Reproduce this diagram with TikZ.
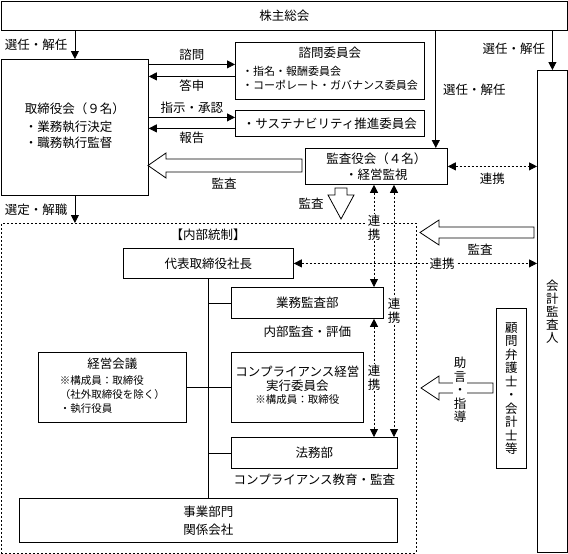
\documentclass[tikz,border=0pt]{standalone}
\usepackage{fontspec}
\setmainfont{Noto Sans CJK JP}
\usetikzlibrary{arrows.meta,calc}
\begin{document}
\begin{tikzpicture}[x=1pt,y=-1pt,
  box/.style={draw, line width=0.8pt, rectangle, anchor=north west, inner sep=1pt, font=\fontsize{12.5}{15}\selectfont},
  txt/.style={font=\fontsize{12.5}{15}\selectfont, inner sep=1pt},
  smalltxt/.style={font=\fontsize{11}{14}\selectfont},
  vlabel/.style={fill=white, inner sep=1pt, align=center, font=\fontsize{12.5}{13.5}\selectfont},
  ln/.style={line width=0.8pt},
  arr/.style={line width=0.8pt, -{Triangle[length=8pt,width=8pt]}},
  darr/.style={line width=0.8pt, dash pattern=on 2pt off 2pt, {Triangle[length=8pt,width=8pt]}-{Triangle[length=8pt,width=8pt]}},
  hollow/.style={line width=0.8pt, fill=white, line join=miter}
]
\useasboundingbox (0,0) rectangle (568,554);

% internal control dotted frame
\node[draw, line width=0.8pt, dash pattern=on 2pt off 2pt, anchor=north west, minimum width=415pt, minimum height=329.5pt, inner sep=0pt] (naibu) at (1,223) {};
\node[txt] (naibulbl) at (208,235) {【内部統制】};

% boxes
\node[box, minimum width=566pt, minimum height=29pt] (kabu) at (1,1) {株主総会};
\node[box, minimum width=147pt, minimum height=136pt] (tori) at (1,59)
  {\begin{tabular}{@{}l@{}}\multicolumn{1}{@{}c@{}}{取締役会（９名）}\\[3pt]・業務執行決定\\[1pt]・職務執行監督\end{tabular}};
\node[box, minimum width=189pt, minimum height=57pt] (shimon) at (235,42)
  {\begin{tabular}{@{}l@{}}\multicolumn{1}{@{}c@{}}{諮問委員会}\\[3pt]{\fontsize{11}{14}\selectfont ・指名・報酬委員会}\\[-1pt]{\fontsize{11}{14}\selectfont ・コーポレート・ガバナンス委員会}\end{tabular}};
\node[box, minimum width=189pt, minimum height=26pt] (sus) at (235,110) {・サステナビリティ推進委員会};
\node[box, minimum width=142pt, minimum height=36pt, align=center, font=\fontsize{12.5}{16}\selectfont] (kansa) at (305,148) {監査役会（４名）\\・経営監視};
\node[box, minimum width=30pt, minimum height=482pt, align=center, font=\fontsize{12.5}{13}\selectfont] (kaikei) at (537,70) {会\\計\\監\\査\\人};
\node[box, minimum width=170pt, minimum height=30pt] (shacho) at (123,248) {代表取締役社長};
\node[box, minimum width=152pt, minimum height=31pt] (gyomu) at (231,287) {業務監査部};
\node[box, minimum width=132pt, minimum height=70pt] (comp) at (231,352)
  {\begin{tabular}{@{}c@{}}コンプライアンス経営\\[-1pt]実行委員会\\[-2pt]{\fontsize{10.5}{13}\selectfont ※構成員：取締役}\end{tabular}};
\node[box, minimum width=166pt, minimum height=31pt] (houmu) at (231,437) {法務部};
\node[box, minimum width=148pt, minimum height=70pt] (keiei) at (38,352)
  {\begin{tabular}{@{}l@{}}\multicolumn{1}{@{}c@{}}{経営会議}\\[1pt]{\fontsize{10.5}{13}\selectfont ※構成員：取締役}\\[-1pt]{\fontsize{10.5}{13}\selectfont （社外取締役を除く）}\\[-1pt]{\fontsize{10.5}{13}\selectfont ・執行役員}\end{tabular}};
\node[box, minimum width=378pt, minimum height=44pt, align=center, font=\fontsize{12.5}{18}\selectfont] (jigyo) at (19,498) {事業部門\\関係会社};
\node[box, minimum width=30pt, minimum height=160pt, align=center, font=\fontsize{12.5}{13.5}\selectfont] (komon) at (496,308) {顧\\問\\弁\\護\\士\\・\\会\\計\\士\\等};

% labels under boxes
\node[txt] (gyomulbl) at ($(gyomu.south)+(0,13)$) {内部監査・評価};
\node[txt] (houmulbl) at ($(houmu.south)+(0,11)$) {コンプライアンス教育・監査};

% election arrows
\draw[arr] (kabu.south -| tori.north) -- (tori.north) node[midway, left=6pt, txt] {選任・解任};
\draw[arr] (tori.south) -- (tori.south |- naibu.north) node[midway, left=6pt, txt] {選定・解職};
\coordinate (ks) at ($(kansa.north east)+(-12,0)$);
\draw[arr] (kabu.south -| ks) -- (ks) node[midway, right=6pt, txt] {選任・解任};
\draw[arr] (kabu.south -| kaikei.north) -- (kaikei.north) node[pos=0.45, left=6pt, txt] {選任・解任};

% board <-> committees
\coordinate (a1) at ($(shimon.west)+(0,-6.5)$);
\coordinate (a2) at ($(shimon.west)+(0,5.5)$);
\draw[arr] (tori.east |- a1) -- (a1) node[midway, above=2pt, txt] {諮問};
\draw[arr] (a2) -- (tori.east |- a2) node[midway, below=2pt, txt] {答申};
\coordinate (b1) at ($(sus.west)+(0,-6)$);
\coordinate (b2) at ($(sus.west)+(0,5)$);
\draw[arr] (tori.east |- b1) -- (b1) node[midway, above=2pt, txt] {指示・承認};
\draw[arr] (b2) -- (tori.east |- b2) node[midway, below=2pt, txt] {報告};

% hollow arrows
\draw[hollow] (148,165.5) -- (166,153) -- (166,159) -- (302,159) -- (302,172) -- (166,172) -- (166,178) -- cycle;
\node[txt] (kansalbl1) at (224,184) {監査};
\draw[hollow] (341,219) -- (328,195) -- (335,195) -- (335,188) -- (347,188) -- (347,195) -- (354,195) -- cycle;
\node[txt] (kansalbl2) at (311,204) {監査};
\draw[hollow] (420,232.5) -- (439,220) -- (439,227) -- (534,227) -- (534,238) -- (439,238) -- (439,245) -- cycle;
\node[txt] (kansalbl3) at (480,250) {監査};
\draw[hollow] (421,388) -- (439,376) -- (439,383) -- (493,383) -- (493,393) -- (439,393) -- (439,400) -- cycle;
\node[vlabel] (jogen) at (460,390) {助\\言\\・\\指\\導};

% coordination (dotted) arrows
\draw[darr] (kansa.east) -- (kaikei.west |- kansa.east) node[midway, below=5pt, txt] {連携};
\draw[darr] (shacho.east) -- (kaikei.west |- shacho.east) node[pos=0.61, fill=white, txt] {連携};
\coordinate (v1) at ($(kansa.south west)+(69,0)$);
\coordinate (v2) at ($(kansa.south west)+(89,0)$);
\draw[darr] (v1) -- (v1 |- gyomu.north) node[pos=0.42, vlabel] {連\\携};
\draw[darr] (v2) -- (v2 |- houmu.north) node[pos=0.5, vlabel] {連\\携};
\draw[darr] (v1 |- gyomu.south) -- (v1 |- houmu.north) node[pos=0.5, vlabel] {連\\携};

% organisation tree
\draw[ln] (shacho.south) -- (jigyo.north);
\draw[ln] (shacho.south |- gyomu.west) -- (gyomu.west);
\draw[ln] (keiei.east) -- (comp.west);
\draw[ln] (shacho.south |- houmu.west) -- (houmu.west);
\end{tikzpicture}
\end{document}
